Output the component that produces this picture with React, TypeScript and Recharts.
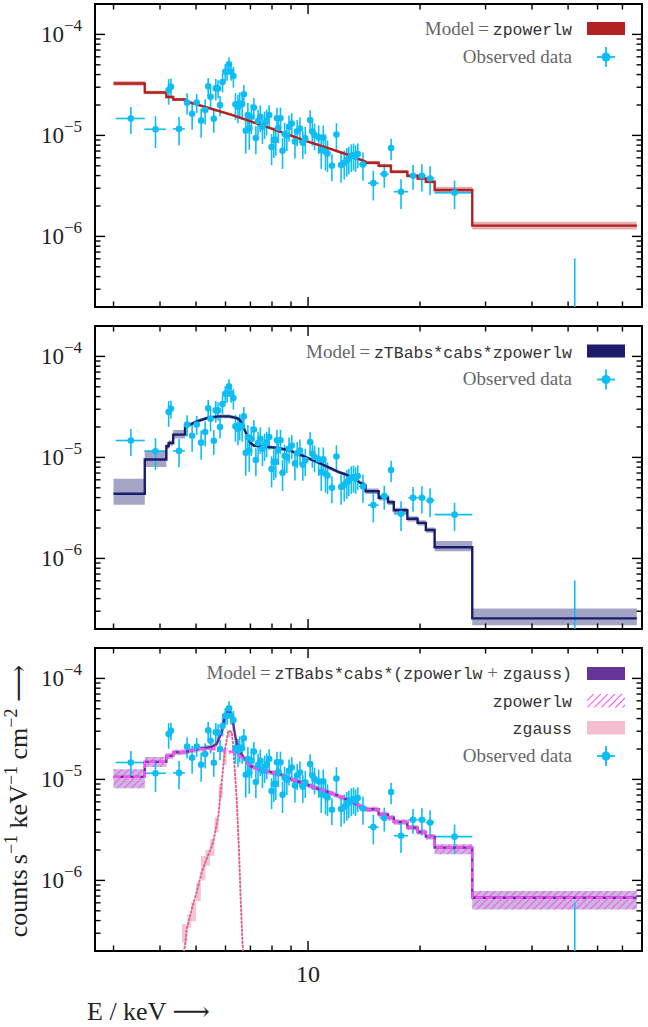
import React from 'react'
import { ComposedChart, Line, Area, Scatter, ErrorBar, XAxis, YAxis, ReferenceArea } from 'recharts'

const SERIF = "'Liberation Serif', 'DejaVu Serif', serif"
const MONO = "'Liberation Mono', 'DejaVu Sans Mono', monospace"
const C = {
  data: '#0fbdf5', red: '#b22222', navy: '#1c1c6c', purple: '#663399',
  magenta: '#ff4dff', pink: '#f3bfd0', gauss: '#e0648e', text: '#666', code: '#333', ink: '#222',
}

// plot geometry
const PW = 547
const PH = 303

// axes
const X_DOMAIN = [2.675, 79]
const Y_DOMAIN = [2e-7, 2e-4]
const X_TICKS = [3, 4, 5, 6, 7, 8, 9, 10, 20, 30, 40, 50, 60, 70]
const Y_TICKS = [
  2e-7, 3e-7, 4e-7, 5e-7, 6e-7, 7e-7, 8e-7, 9e-7,
  1e-6, 2e-6, 3e-6, 4e-6, 5e-6, 6e-6, 7e-6, 8e-6, 9e-6,
  1e-5, 2e-5, 3e-5, 4e-5, 5e-5, 6e-5, 7e-5, 8e-5, 9e-5,
  1e-4, 2e-4,
]
const Y_LABELS: Record<string, string> = { [String(1e-6)]: '−6', [String(1e-5)]: '−5', [String(1e-4)]: '−4' }

// observed spectrum (same in all panels)
const obsE = [
  3.34, 3.89, 4.5, 4.22, 4.28, 4.73, 4.88, 5.02, 5.16, 5.29,
  5.39, 5.47, 5.58, 5.65, 5.73, 5.8, 5.89, 5.99, 6.06, 6.13,
  6.21, 6.3, 6.38, 6.48, 6.55, 6.65, 6.72, 6.8, 6.89, 6.95,
  7.04, 7.15, 7.24, 7.34, 7.44, 7.54, 7.64, 7.74, 7.86, 7.98,
  8.09, 8.19, 8.25, 8.32, 8.43, 8.54, 8.65, 8.77, 8.89, 9.04,
  9.22, 9.35, 9.51, 9.68, 9.83, 10.13, 10.27, 10.41, 10.68, 10.85,
  10.99, 11.14, 11.28, 11.59, 11.92, 12.27, 12.51, 12.71, 12.87, 13.07,
  13.25, 13.42, 13.6, 14.05, 14.98, 16.03, 16.72, 17.78, 19.15, 20.23,
  21.28, 24.76, 52.1,
]
const obsF = [
  1.47e-5, 1.15e-5, 1.16e-5, 2.81e-5, 3.03e-5, 2.11e-5, 1.64e-5, 2.12e-5, 1.4e-5, 1.78e-5,
  3.06e-5, 2.41e-5, 1.46e-5, 2.92e-5, 2.92e-5, 2.0e-5, 3.37e-5, 4.27e-5, 4.27e-5, 5.05e-5,
  4.27e-5, 3.87e-5, 2.03e-5, 1.92e-5, 2.07e-5, 2.03e-5, 2.55e-5, 1.11e-5, 1.59e-5, 1.17e-5,
  1.53e-5, 1.89e-5, 9.41e-6, 1.39e-5, 1.53e-5, 1.22e-5, 1.32e-5, 1.4e-5, 1.59e-5, 7.66e-6,
  8.99e-6, 9.06e-6, 1.48e-5, 1.19e-5, 1.48e-5, 7.05e-6, 1.03e-5, 1.0e-5, 1.22e-5, 1.31e-5,
  8.72e-6, 1.1e-5, 1.17e-5, 8.46e-6, 9.34e-6, 1.42e-5, 1.09e-5, 1.01e-5, 9.55e-6, 7.16e-6,
  9.55e-6, 6.89e-6, 6.63e-6, 5.01e-6, 1.02e-5, 5.09e-6, 5.36e-6, 5.7e-6, 5.92e-6, 6.25e-6,
  6.39e-6, 6.15e-6, 6.53e-6, 5.16e-6, 3.37e-6, 4.14e-6, 7.49e-6, 2.77e-6, 3.99e-6, 3.99e-6,
  3.75e-6, 2.71e-6, 1.0e-7,
]
const obsErr: (number | number[])[] = [
  4.4e-6, 4.0e-6, 3.6e-6, 8.0e-6, 6.0e-6, 5.0e-6, 5.0e-6, 4.5e-6, 4.5e-6, 5.0e-6,
  6.5e-6, 6.0e-6, 4.0e-6, 7.0e-6, 6.0e-6, 4.5e-6, 7.0e-6, 8.0e-6, 8.0e-6, 9.0e-6,
  8.0e-6, 9.0e-6, 6.0e-6, 6.0e-6, 6.0e-6, 6.0e-6, 6.0e-6, 4.5e-6, 5.0e-6, 4.5e-6,
  5.0e-6, 4.5e-6, 2.9e-6, 4.0e-6, 4.5e-6, 4.0e-6, 4.0e-6, 4.0e-6, 4.0e-6, 2.6e-6,
  3.0e-6, 2.8e-6, 4.0e-6, 3.5e-6, 4.0e-6, 2.4e-6, 3.0e-6, 3.0e-6, 3.5e-6, 3.5e-6,
  2.8e-6, 3.2e-6, 3.3e-6, 2.6e-6, 2.8e-6, 3.5e-6, 3.0e-6, 3.0e-6, 3.0e-6, 2.5e-6,
  3.0e-6, 2.4e-6, 2.3e-6, 1.5e-6, 3.0e-6, 1.7e-6, 1.7e-6, 1.8e-6, 1.8e-6, 1.9e-6,
  1.9e-6, 1.8e-6, 1.8e-6, 1.6e-6, 1.1e-6, 1.1e-6, 1.8e-6, 0.9e-6, 1.1e-6, 1.2e-6,
  1.2e-6, 0.85e-6, [0, 5.05e-7],
]
const obsXErr = [
  0.3, 0.26, 0.165, 0.03, 0.03, 0, 0, 0, 0, 0,
  0, 0, 0, 0, 0, 0, 0, 0, 0, 0,
  0, 0, 0, 0, 0, 0, 0, 0, 0, 0,
  0, 0, 0, 0, 0, 0, 0, 0, 0, 0,
  0, 0, 0, 0, 0, 0, 0, 0, 0, 0,
  0, 0, 0, 0, 0, 0, 0, 0, 0, 0,
  0, 0, 0, 0, 0, 0, 0, 0, 0, 0,
  0, 0, 0, 0.35, 0.49, 0.45, 0.3, 0.78, 0.55, 0.5,
  0.58, 2.87, 0,
]

// panel 1: zpowerlw
const m1E = [3.0, 3.64, 3.64, 4.16, 4.16, 4.34, 4.34, 4.67, 4.67, 6.27, 7.81, 9.72, 11.59, 12.11, 12.65, 14.27, 14.27, 15.48, 15.48, 16.7, 16.7, 18.49, 18.49, 19.7, 19.7, 20.73, 20.73, 21.89, 21.89, 27.63, 27.63, 76.5]
const m1F = [3.27e-5, 3.27e-5, 2.66e-5, 2.66e-5, 2.4e-5, 2.4e-5, 2.27e-5, 2.27e-5, 2.19e-5, 1.59e-5, 1.2e-5, 8.99e-6, 7.27e-6, 6.89e-6, 6.53e-6, 5.5e-6, 5.36e-6, 5.36e-6, 5.01e-6, 5.01e-6, 4.37e-6, 4.37e-6, 3.99e-6, 3.99e-6, 3.75e-6, 3.75e-6, 3.48e-6, 3.48e-6, 2.88e-6, 2.88e-6, 1.28e-6, 1.28e-6]
const b1Up = [0.055, 0.055, 0.04, 0.04, 0.035, 0.035, 0.035, 0.035, 0.03, 0.03, 0.03, 0.03, 0.03, 0.03, 0.03, 0.04, 0.04, 0.04, 0.04, 0.04, 0.04, 0.04, 0.04, 0.04, 0.04, 0.04, 0.04, 0.04, 0.08, 0.08, 0.09, 0.09]
const b1Dn = [0.05, 0.05, 0.04, 0.04, 0.035, 0.035, 0.035, 0.035, 0.03, 0.03, 0.03, 0.03, 0.03, 0.03, 0.03, 0.04, 0.04, 0.04, 0.04, 0.04, 0.04, 0.04, 0.04, 0.04, 0.04, 0.04, 0.04, 0.04, 0.075, 0.075, 0.085, 0.085]

// panel 2: zTBabs*cabs*zpowerlw
const m2E = [3.0, 3.64, 3.64, 4.16, 4.16, 4.22, 4.22, 4.34, 4.34, 4.67, 4.67, 4.82, 5.03, 5.37, 5.74, 6.13, 6.41, 6.55, 6.69, 6.84, 7.0, 7.15, 7.47, 8.15, 8.9, 9.72, 10.61, 11.59, 12.11, 12.65, 13.36, 13.81, 14.27, 14.27, 15.48, 15.48, 16.4, 16.4, 17.0, 17.0, 18.49, 18.49, 19.7, 19.7, 20.73, 20.73, 21.89, 21.89, 27.63, 27.63, 76.5]
const m2F = [4.36e-6, 4.36e-6, 9.52e-6, 9.52e-6, 1.29e-5, 1.29e-5, 1.39e-5, 1.39e-5, 1.68e-5, 1.68e-5, 2.06e-5, 2.11e-5, 2.28e-5, 2.46e-5, 2.55e-5, 2.55e-5, 2.46e-5, 2.37e-5, 2.03e-5, 1.68e-5, 1.39e-5, 1.31e-5, 1.29e-5, 1.25e-5, 1.18e-5, 1.03e-5, 8.96e-6, 7.7e-6, 7.13e-6, 6.77e-6, 6.18e-6, 5.6e-6, 5.31e-6, 4.63e-6, 4.63e-6, 3.98e-6, 3.98e-6, 3.6e-6, 3.6e-6, 3.0e-6, 3.0e-6, 2.47e-6, 2.47e-6, 2.25e-6, 2.25e-6, 1.91e-6, 1.91e-6, 1.29e-6, 1.29e-6, 2.55e-7, 2.55e-7]
const b2Up = [0.41, 0.41, 0.24, 0.24, 0.06, 0.06, 0.06, 0.06, 0.11, 0.11, 0.04, 0.04, 0.04, 0.04, 0.04, 0.04, 0.04, 0.04, 0.04, 0.04, 0.04, 0.04, 0.04, 0.04, 0.04, 0.04, 0.04, 0.04, 0.04, 0.04, 0.04, 0.04, 0.06, 0.06, 0.06, 0.06, 0.06, 0.06, 0.06, 0.06, 0.06, 0.06, 0.06, 0.06, 0.06, 0.06, 0.06, 0.15, 0.15, 0.25, 0.25]
const b2Dn = [0.22, 0.22, 0.155, 0.155, 0.06, 0.06, 0.06, 0.06, 0.085, 0.085, 0.04, 0.04, 0.04, 0.04, 0.04, 0.04, 0.04, 0.04, 0.04, 0.04, 0.04, 0.04, 0.04, 0.04, 0.04, 0.04, 0.04, 0.04, 0.04, 0.04, 0.04, 0.04, 0.06, 0.06, 0.06, 0.06, 0.06, 0.06, 0.06, 0.06, 0.06, 0.06, 0.06, 0.06, 0.06, 0.06, 0.06, 0.085, 0.085, 0.145, 0.145]

// panel 3: zTBabs*cabs*(zpowerlw + zgauss)
const m3E = [3.0, 3.64, 3.64, 4.16, 4.16, 4.34, 4.34, 4.67, 5.03, 5.5, 5.68, 5.86, 5.98, 6.11, 6.24, 6.37, 6.49, 6.7, 6.98, 7.58, 8.41, 8.9, 9.72, 10.61, 11.59, 12.65, 13.36, 14.27, 14.27, 15.48, 15.48, 16.4, 16.4, 17.0, 17.0, 18.49, 18.49, 19.7, 19.7, 20.73, 20.73, 21.89, 21.89, 27.63, 27.63, 76.5]
const m3Total = [1.06e-5, 1.06e-5, 1.49e-5, 1.49e-5, 1.71e-5, 1.71e-5, 1.85e-5, 1.87e-5, 1.99e-5, 2.1e-5, 2.24e-5, 2.94e-5, 4.27e-5, 4.78e-5, 4.44e-5, 2.7e-5, 2.0e-5, 1.66e-5, 1.36e-5, 1.22e-5, 1.13e-5, 1.02e-5, 9.16e-6, 8.11e-6, 7.29e-6, 6.36e-6, 5.8e-6, 5.14e-6, 5.06e-6, 5.06e-6, 4.51e-6, 4.51e-6, 4.18e-6, 4.18e-6, 3.79e-6, 3.79e-6, 3.33e-6, 3.33e-6, 3.01e-6, 3.01e-6, 2.71e-6, 2.71e-6, 2.11e-6, 2.11e-6, 6.73e-7, 6.73e-7]
const m3Pow = [1.06e-5, 1.06e-5, 1.49e-5, 1.49e-5, 1.71e-5, 1.71e-5, 1.85e-5, 1.87e-5, 1.99e-5, 2.0e-5, 1.98e-5, 1.95e-5, 1.93e-5, 1.9e-5, 1.88e-5, 1.85e-5, 1.75e-5, 1.62e-5, 1.36e-5, 1.22e-5, 1.13e-5, 1.02e-5, 9.16e-6, 8.11e-6, 7.29e-6, 6.36e-6, 5.8e-6, 5.14e-6, 5.06e-6, 5.06e-6, 4.51e-6, 4.51e-6, 4.18e-6, 4.18e-6, 3.79e-6, 3.79e-6, 3.33e-6, 3.33e-6, 3.01e-6, 3.01e-6, 2.71e-6, 2.71e-6, 2.11e-6, 2.11e-6, 6.73e-7, 6.73e-7]
const b3Up = [0.19, 0.19, 0.12, 0.12, 0.07, 0.07, 0.06, 0.06, 0.06, 0.06, 0.06, 0.06, 0.06, 0.06, 0.06, 0.06, 0.06, 0.06, 0.06, 0.06, 0.06, 0.06, 0.06, 0.06, 0.06, 0.06, 0.06, 0.06, 0.06, 0.06, 0.06, 0.06, 0.06, 0.06, 0.06, 0.06, 0.06, 0.06, 0.06, 0.06, 0.06, 0.06, 0.08, 0.08, 0.165, 0.165]
const b3Dn = [0.23, 0.23, 0.11, 0.11, 0.07, 0.07, 0.06, 0.06, 0.06, 0.06, 0.06, 0.06, 0.06, 0.06, 0.06, 0.06, 0.06, 0.06, 0.06, 0.06, 0.06, 0.06, 0.06, 0.06, 0.06, 0.06, 0.06, 0.06, 0.06, 0.06, 0.06, 0.06, 0.06, 0.06, 0.06, 0.06, 0.06, 0.06, 0.06, 0.06, 0.06, 0.06, 0.14, 0.14, 0.235, 0.235]

// zgauss component
const gE = [4.55, 4.67, 4.72, 4.87, 5.02, 5.18, 5.34, 5.56, 5.74, 5.86, 5.98, 6.11, 6.24, 6.3, 6.43, 6.52, 6.59, 6.67, 6.75]
const gF = [1.5e-7, 2.25e-7, 3.3e-7, 5.2e-7, 7.66e-7, 1.21e-6, 1.63e-6, 2.39e-6, 4.37e-6, 9.4e-6, 2.0e-5, 3.03e-5, 2.94e-5, 2.0e-5, 6.38e-6, 2.04e-6, 6.5e-7, 2.25e-7, 1.2e-7]
const gbE = [4.58, 4.74, 4.74, 4.85, 4.85, 5.0, 5.0, 5.15, 5.15, 5.3, 5.3, 5.45, 5.45, 5.6, 5.6, 5.75, 5.75, 5.9, 5.9, 6.05, 6.05, 6.2]
const gbLo = [2.44e-7, 2.44e-7, 3.4e-7, 3.4e-7, 3.94e-7, 3.94e-7, 6.2e-7, 6.2e-7, 1.0e-6, 1.0e-6, 1.4e-6, 1.4e-6, 1.74e-6, 1.74e-6, 3.0e-6, 3.0e-6, 6.5e-6, 6.5e-6, 1.4e-5, 1.4e-5, 2.6e-5, 2.6e-5]
const gbHi = [3.68e-7, 3.68e-7, 4.6e-7, 4.6e-7, 6.08e-7, 6.08e-7, 9.5e-7, 9.5e-7, 1.74e-6, 1.74e-6, 2.0e-6, 2.0e-6, 2.57e-6, 2.57e-6, 4.2e-6, 4.2e-6, 9.0e-6, 9.0e-6, 2.0e-5, 2.0e-5, 3.1e-5, 3.1e-5]

const rowsOf = (E: number[], F: number[]) => E.map((e, i) => ({ E: e, F: F[i] }))
const bandOf = (E: number[], F: number[], up: number[], dn: number[]) =>
  E.map((e, i) => ({ E: e, r: [F[i] * (1 - dn[i]), F[i] * (1 + up[i])] }))

const obsRows = obsE.map((e, i) => ({ E: e, F: obsF[i], ey: obsErr[i], ex: obsXErr[i] }))

// error bars are not clipped by the chart, so keep them inside the y domain
const clippedErrY = (d: any) => {
  const [lo, hi] = Array.isArray(d.ey) ? d.ey : [d.ey, d.ey]
  const bottom = Math.max(d.F - lo, Y_DOMAIN[0])
  const top = Math.min(d.F + hi, Y_DOMAIN[1])
  return [d.F - bottom, top - d.F]
}

const xTick = (showLabel: boolean) => (p: any) => {
  const { x, y, payload } = p
  const major = payload.value === 10
  const len = major ? 10 : 5.5
  return (
    <g>
      <line x1={x} x2={x} y1={y} y2={y - len} stroke="#000" strokeWidth={1.4} />
      <line x1={x} x2={x} y1={y - PH} y2={y - PH + len} stroke="#000" strokeWidth={1.4} />
      {showLabel && major ? (
        <text x={x} y={y + 31} textAnchor="middle" fontFamily={SERIF} fontSize={24} fill={C.ink}>10</text>
      ) : null}
    </g>
  )
}

const yTick = (p: any) => {
  const { x, y, payload } = p
  const exp = Y_LABELS[String(payload.value)]
  const len = exp ? 10 : 5.5
  return (
    <g>
      <line x1={x} x2={x + len} y1={y} y2={y} stroke="#000" strokeWidth={1.4} />
      <line x1={x + PW} x2={x + PW - len} y1={y} y2={y} stroke="#000" strokeWidth={1.4} />
      {exp ? (
        <text x={x - 13} y={y + 8} textAnchor="end" fontFamily={SERIF} fontSize={23} fill={C.ink}>
          10<tspan dy={-11} fontSize={17}>{exp}</tspan>
        </text>
      ) : null}
    </g>
  )
}

const dot = (p: any) => <circle cx={p.cx} cy={p.cy} r={3.3} fill={C.data} />

function Observed() {
  return (
    <Scatter data={obsRows} dataKey="F" shape={dot} fill={C.data} isAnimationActive={false}>
      <ErrorBar dataKey={clippedErrY} direction="y" width={0} stroke={C.data} strokeWidth={1.6} />
      <ErrorBar dataKey="ex" direction="x" width={0} stroke={C.data} strokeWidth={1.6} />
    </Scatter>
  )
}

function Panel({ top, xLabel, children }: { top: number; xLabel?: boolean; children: React.ReactNode }) {
  return (
    <div style={{ position: 'absolute', left: 0, top: top - 5 }}>
      <ComposedChart width={648} height={368} margin={{ top: 5, right: 6, bottom: 30, left: 0 }}>
        <defs>
          <pattern id="hatch" patternUnits="userSpaceOnUse" width="5" height="5" patternTransform="rotate(45)">
            <line x1="0" y1="0" x2="0" y2="5" stroke={C.magenta} strokeWidth="2" />
          </pattern>
        </defs>
        <XAxis dataKey="E" type="number" scale="log" domain={X_DOMAIN} allowDataOverflow ticks={X_TICKS}
          interval={0} tick={xTick(!!xLabel)} tickLine={false} axisLine={false} tickSize={0} tickMargin={0} height={30} />
        <YAxis type="number" scale="log" domain={Y_DOMAIN} allowDataOverflow ticks={Y_TICKS}
          interval={0} tick={yTick} tickLine={false} axisLine={false} tickSize={0} tickMargin={0} width={95} />
        {children}
        <ReferenceArea x1={X_DOMAIN[0]} x2={X_DOMAIN[1]} y1={Y_DOMAIN[0]} y2={Y_DOMAIN[1]}
          fill="none" stroke="#000" strokeWidth={2} ifOverflow="visible" />
      </ComposedChart>
    </div>
  )
}

function DataKey({ cx, cy }: { cx: number; cy: number }) {
  return (
    <g>
      <line x1={cx - 9} x2={cx + 9} y1={cy} y2={cy} stroke={C.data} strokeWidth={1.8} />
      <line x1={cx} x2={cx} y1={cy - 10} y2={cy + 10} stroke={C.data} strokeWidth={1.8} />
      <circle cx={cx} cy={cy} r={4.5} fill={C.data} />
    </g>
  )
}

function Label({ y, serif, code }: { y: number; serif?: string; code?: React.ReactNode }) {
  return (
    <text x={572} y={y} textAnchor="end" fontSize={19}>
      {serif ? <tspan fontFamily={SERIF} fill={C.text}>{serif}</tspan> : null}
      {code}
    </text>
  )
}

const mono = (s: string) => <tspan fontFamily={MONO} fontSize={16.5} fill={C.code}>{s}</tspan>
const plus = <tspan fontFamily={SERIF} fill={C.text}>{' + '}</tspan>

function Overlay() {
  return (
    <svg width={648} height={1027} style={{ position: 'absolute', left: 0, top: 0, pointerEvents: 'none' }}>
      <defs>
        <pattern id="hatchKey" patternUnits="userSpaceOnUse" width="5" height="5" patternTransform="rotate(45)">
          <line x1="0" y1="0" x2="0" y2="5" stroke={C.magenta} strokeWidth="2" />
        </pattern>
      </defs>
      {/* panel 1 */}
      <Label y={34.5} serif={'Model\u2009=\u2009'} code={mono('zpowerlw')} />
      <rect x={587} y={22} width={38} height={13} fill={C.red} />
      <Label y={62.5} serif="Observed data" />
      <DataKey cx={606} cy={57} />
      {/* panel 2 */}
      <Label y={357.5} serif={'Model\u2009=\u2009'} code={mono('zTBabs*cabs*zpowerlw')} />
      <rect x={587} y={344.5} width={38} height={13} fill={C.navy} />
      <Label y={385} serif="Observed data" />
      <DataKey cx={606} cy={379.5} />
      {/* panel 3 */}
      <Label y={679} serif={'Model\u2009=\u2009'} code={<>{mono('zTBabs*cabs*(zpowerlw')}{plus}{mono('zgauss)')}</>} />
      <rect x={587} y={667} width={38} height={13} fill={C.purple} />
      <Label y={707} code={mono('zpowerlw')} />
      <rect x={587} y={694} width={38} height={13.5} fill="url(#hatchKey)" />
      <Label y={734} code={mono('zgauss')} />
      <rect x={587} y={721} width={38} height={13.5} fill={C.pink} />
      <Label y={761.5} serif="Observed data" />
      <DataKey cx={606} cy={756} />
      {/* axis titles */}
      <text transform="translate(27,801) rotate(-90)" textAnchor="middle" fontFamily={SERIF} fontSize={26} fill={C.ink}>
        counts{'\u2009'}s<tspan dy={-10} fontSize={18}>−1</tspan>
        <tspan dy={10}>{' '}keV</tspan><tspan dy={-10} fontSize={18}>−1</tspan>
        <tspan dy={10}>{' '}cm</tspan><tspan dy={-10} fontSize={18}>−2</tspan>
        <tspan dy={10}>{' \u27F6'}</tspan>
      </text>
      <text x={87} y={1020} fontFamily={SERIF} fontSize={26} fill={C.ink}>E / keV {'\u27F6'}</text>
    </svg>
  )
}

export default function App() {
  const p1 = rowsOf(m1E, m1F)
  const p2 = rowsOf(m2E, m2F)
  return (
    <div style={{ position: 'absolute', left: 0, top: 0, width: 648, height: 1027, background: '#fff' }}>
      <Panel top={4}>
        <Area data={bandOf(m1E, m1F, b1Up, b1Dn)} dataKey="r" type="linear" stroke="none" fill={C.red} fillOpacity={0.35} isAnimationActive={false} />
        {Observed()}
        <Line data={p1} dataKey="F" type="linear" dot={false} stroke={C.red} strokeWidth={2.4} isAnimationActive={false} />
      </Panel>
      <Panel top={326}>
        <Area data={bandOf(m2E, m2F, b2Up, b2Dn)} dataKey="r" type="linear" stroke="none" fill={C.navy} fillOpacity={0.4} isAnimationActive={false} />
        {Observed()}
        <Line data={p2} dataKey="F" type="linear" dot={false} stroke={C.navy} strokeWidth={2.4} isAnimationActive={false} />
      </Panel>
      <Panel top={648} xLabel>
        <Area data={bandOf(m3E, m3Total, b3Up, b3Dn)} dataKey="r" type="linear" stroke="none" fill={C.purple} fillOpacity={0.35} isAnimationActive={false} />
        <Area data={bandOf(m3E, m3Pow, b3Up, b3Dn)} dataKey="r" type="linear" stroke="none" fill="url(#hatch)" fillOpacity={1} isAnimationActive={false} />
        <Area data={gbE.map((e, i) => ({ E: e, r: [gbLo[i], gbHi[i]] }))} dataKey="r" type="linear" stroke="none" fill={C.pink} fillOpacity={0.9} isAnimationActive={false} />
        <Line data={rowsOf(gE, gF)} dataKey="F" type="linear" dot={false} stroke={C.gauss} strokeWidth={2} strokeDasharray="1.5 2.5" strokeLinecap="round" isAnimationActive={false} />
        {Observed()}
        <Line data={rowsOf(m3E, m3Total)} dataKey="F" type="linear" dot={false} stroke={C.purple} strokeWidth={2.4} isAnimationActive={false} />
        <Line data={rowsOf(m3E, m3Pow)} dataKey="F" type="linear" dot={false} stroke={C.magenta} strokeWidth={2.2} strokeDasharray="7 3" isAnimationActive={false} />
      </Panel>
      <Overlay />
    </div>
  )
}
